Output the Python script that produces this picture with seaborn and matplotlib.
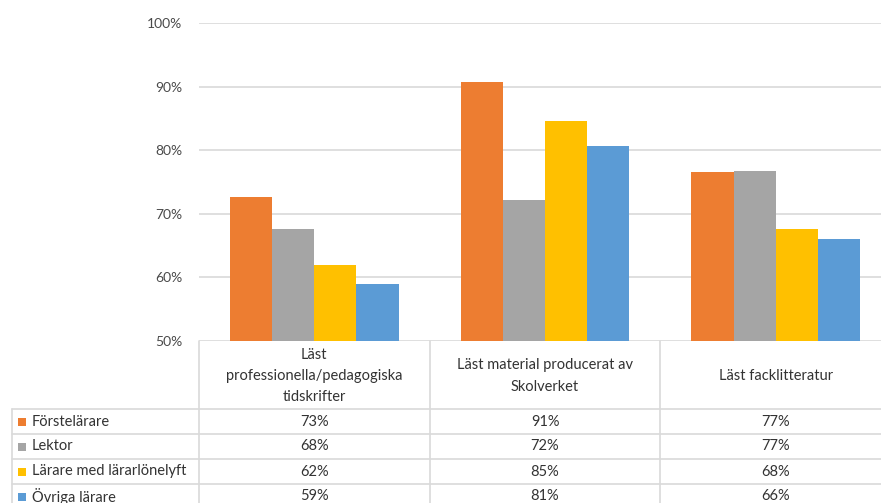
import numpy as np
import pandas as pd
import matplotlib
matplotlib.use("Agg")
import matplotlib.pyplot as plt
import seaborn as sns
from matplotlib.transforms import blended_transform_factory
from matplotlib.patches import Rectangle
from matplotlib.lines import Line2D

# --- data -------------------------------------------------------------
categories = [
    "Läst\nprofessionella/pedagogiska\ntidskrifter",
    "Läst material producerat av\nSkolverket",
    "Läst facklitteratur",
]
groups = ["Förstelärare", "Lektor", "Lärare med lärarlönelyft", "Övriga lärare"]
forstelarare = [0.726, 0.908, 0.766]
lektor = [0.676, 0.721, 0.768]
lararlonelyft = [0.620, 0.846, 0.676]
ovriga_larare = [0.590, 0.806, 0.660]
colors = ["#ED7D31", "#A5A5A5", "#FFC000", "#5B9BD5"]
y_ticks = [0.5, 0.6, 0.7, 0.8, 0.9, 1.0]

series = [forstelarare, lektor, lararlonelyft, ovriga_larare]
df = pd.DataFrame(
    [(cat, grp, val) for grp, vals in zip(groups, series) for cat, val in zip(categories, vals)],
    columns=["Kategori", "Grupp", "Andel"],
)

# --- style ------------------------------------------------------------
sns.set_style("white")
plt.rcParams["font.family"] = ["Lato", "DejaVu Sans"]
TEXT = "#333333"
GRID = "#d9d9d9"
FS = 10.5

W, H = 881, 503
fig = plt.figure(figsize=(W / 100, H / 100), dpi=100)
ax = fig.add_axes([199 / W, 1 - 341 / H, 692 / W, 318 / H])

sns.barplot(
    data=df, x="Kategori", y="Andel", hue="Grupp", order=categories,
    hue_order=groups, palette=colors, width=0.73, saturation=1,
    linewidth=0, legend=False, ax=ax,
)

ax.set_xlim(-0.5, len(categories) - 0.5)
ax.set_ylim(y_ticks[0], y_ticks[-1])
ax.set_yticks(y_ticks)
ax.set_yticklabels([f"{t * 100:.0f}%" for t in y_ticks])
ax.yaxis.grid(True, color=GRID, lw=1.2)
ax.set_axisbelow(True)
for s in ax.spines.values():
    s.set_visible(False)
ax.tick_params(axis="y", length=0, pad=12, labelsize=10, labelcolor="#4a4a4a")
ax.set_xticks([])
ax.set_xlabel("")
ax.set_ylabel("")

# --- data table under the plot ----------------------------------------
def fy(py):
    return 1 - py / H

trans = blended_transform_factory(ax.transData, fig.transFigure)
header_top, header_bottom = 341, 409
row_h = 25

for i, cat in enumerate(categories):
    ax.text(i, fy((header_top + header_bottom) / 2 + 1), cat, transform=trans,
            ha="center", va="center", fontsize=FS, linespacing=1.65,
            color=TEXT, clip_on=False)

# vertical cell borders
for xb in np.arange(-0.5, len(categories) + 0.5, 1.0):
    fig.add_artist(Line2D([xb, xb], [fy(header_top), fy(H + 10)], transform=trans,
                          color=GRID, lw=1.2))
fig.add_artist(Line2D([12 / W, 12 / W], [fy(header_bottom), fy(H + 10)],
                      transform=fig.transFigure, color=GRID, lw=1.2))

# horizontal cell borders
for r in range(len(groups)):
    yb = header_bottom + r * row_h
    fig.add_artist(Line2D([12 / W, 1.0], [fy(yb), fy(yb)],
                          transform=fig.transFigure, color=GRID, lw=1.2))

for r, (grp, vals, col) in enumerate(zip(groups, series, colors)):
    yc = header_bottom + r * row_h + row_h / 2
    fig.add_artist(Rectangle((18 / W, fy(yc) - 4 / H), 8 / W, 8 / H,
                             transform=fig.transFigure, color=col, lw=0))
    fig.text(32 / W, fy(yc), grp, ha="left", va="center", fontsize=FS, color=TEXT)
    for i, v in enumerate(vals):
        ax.text(i, fy(yc), f"{v * 100:.0f}%", transform=trans, ha="center",
                va="center", fontsize=FS, color=TEXT, clip_on=False)

fig.savefig("out.png", dpi=100)
